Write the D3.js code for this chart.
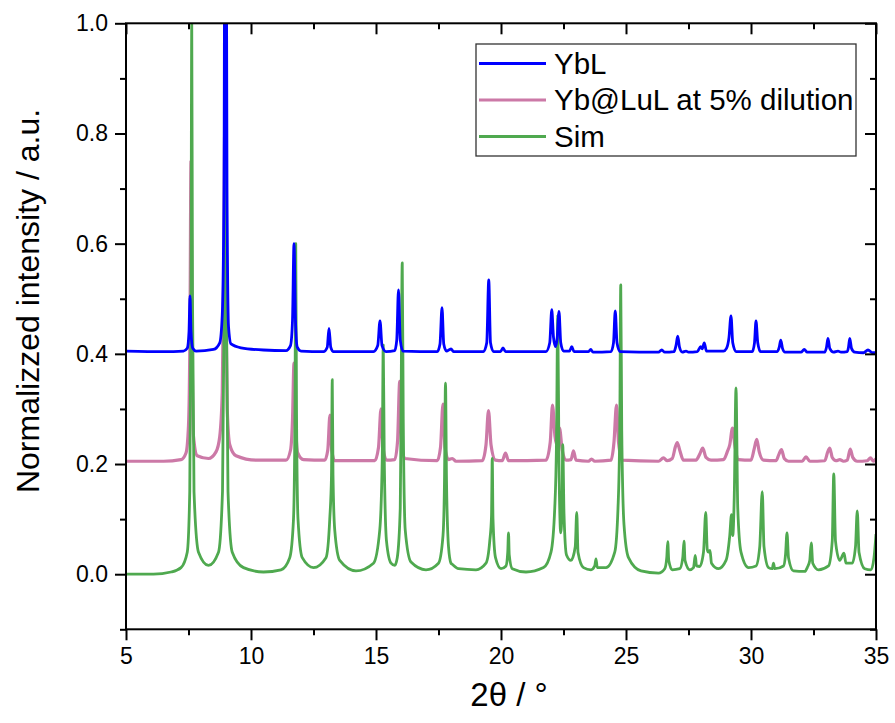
<!DOCTYPE html>
<html>
<head>
<meta charset="utf-8">
<script src="https://cdn.jsdelivr.net/npm/d3@7"></script>
<style>
body { margin:0; background:#fff; }
svg text { font-family:"Liberation Sans", Arial, sans-serif; fill:#000; }
</style>
</head>
<body>
<svg id="chart" width="895" height="723"></svg>
<script>
// series names and colours, legend order
var seriesNames = ["YbL", "Yb@LuL at 5% dilution", "Sim"];
var seriesColors = ["#0000ff", "#cc79a7", "#4fa94f"];

// x ticks and y ticks
var xTicks = [5, 10, 15, 20, 25, 30, 35];
var yTicks = [0.0, 0.2, 0.4, 0.6, 0.8, 1.0];

// YbL, offset +0.4
var ybl = [[5,0.405],[6.5,0.404],[7.3,0.405],[7.45,0.41],[7.52,0.44],[7.56,0.505],[7.6,0.44],[7.67,0.41],[7.8,0.405],[8.5,0.408],[8.75,0.42],[8.85,0.47],[8.92,0.7],[8.96,1.4],[9.0,1.4],[9.04,0.7],[9.1,0.45],[9.2,0.418],[9.6,0.411],[10.5,0.407],[11.4,0.406],[11.58,0.415],[11.66,0.46],[11.72,0.6],[11.78,0.46],[11.85,0.412],[12.0,0.405],[12.9,0.404],[13.05,0.412],[13.12,0.446],[13.19,0.412],[13.3,0.404],[14.9,0.404],[15.07,0.415],[15.16,0.46],[15.24,0.415],[15.4,0.404],[15.75,0.406],[15.83,0.425],[15.9,0.516],[15.97,0.425],[16.08,0.405],[17.45,0.404],[17.56,0.418],[17.64,0.484],[17.71,0.418],[17.82,0.405],[17.95,0.408],[18.0,0.409],[18.1,0.404],[19.3,0.404],[19.43,0.42],[19.51,0.534],[19.58,0.42],[19.7,0.404],[19.98,0.404],[20.08,0.411],[20.18,0.404],[21.8,0.404],[21.95,0.42],[22.03,0.48],[22.1,0.43],[22.18,0.413],[22.25,0.43],[22.32,0.477],[22.39,0.42],[22.5,0.405],[22.74,0.405],[22.83,0.413],[22.92,0.404],[23.5,0.404],[23.59,0.408],[23.68,0.403],[24.4,0.404],[24.5,0.42],[24.57,0.478],[24.64,0.42],[24.76,0.404],[26.3,0.403],[26.43,0.407],[26.55,0.403],[26.92,0.404],[27.0,0.415],[27.07,0.432],[27.14,0.412],[27.25,0.403],[27.4,0.405],[27.5,0.403],[27.85,0.404],[27.99,0.413],[28.05,0.409],[28.13,0.42],[28.22,0.405],[28.9,0.405],[29.02,0.41],[29.12,0.43],[29.2,0.469],[29.27,0.42],[29.4,0.404],[30.05,0.404],[30.14,0.42],[30.2,0.46],[30.27,0.42],[30.38,0.404],[31.05,0.404],[31.13,0.412],[31.19,0.425],[31.26,0.41],[31.36,0.403],[32.0,0.403],[32.13,0.408],[32.25,0.403],[32.95,0.403],[33.02,0.412],[33.08,0.428],[33.15,0.41],[33.3,0.403],[33.48,0.405],[33.6,0.403],[33.85,0.404],[33.9,0.412],[33.95,0.428],[34.02,0.41],[34.15,0.403],[34.5,0.402],[34.68,0.407],[34.85,0.402],[35,0.402]];

// Yb@LuL at 5% dilution, offset +0.2
var ybLuL = [[5,0.205],[6.5,0.205],[7.2,0.208],[7.4,0.22],[7.5,0.27],[7.56,0.45],[7.6,0.75],[7.64,0.45],[7.7,0.25],[7.85,0.215],[8.3,0.21],[8.6,0.222],[8.75,0.25],[8.85,0.33],[8.91,0.55],[8.95,0.81],[8.99,0.55],[9.05,0.3],[9.15,0.235],[9.4,0.215],[10.2,0.207],[11.4,0.207],[11.58,0.225],[11.66,0.28],[11.72,0.383],[11.78,0.28],[11.87,0.22],[12.1,0.208],[12.95,0.207],[13.07,0.225],[13.16,0.289],[13.23,0.225],[13.35,0.206],[14.95,0.206],[15.1,0.23],[15.2,0.3],[15.28,0.23],[15.42,0.207],[15.75,0.208],[15.86,0.24],[15.95,0.35],[16.02,0.24],[16.15,0.21],[17.45,0.206],[17.58,0.23],[17.68,0.309],[17.76,0.23],[17.9,0.208],[18.05,0.21],[18.2,0.205],[19.25,0.206],[19.4,0.235],[19.5,0.297],[19.6,0.235],[19.78,0.207],[20.05,0.206],[20.18,0.22],[20.3,0.206],[21.8,0.207],[21.97,0.24],[22.06,0.307],[22.16,0.25],[22.24,0.235],[22.34,0.265],[22.45,0.225],[22.6,0.207],[22.8,0.208],[22.9,0.224],[23.0,0.207],[23.5,0.205],[23.62,0.209],[23.75,0.205],[24.4,0.207],[24.52,0.24],[24.62,0.307],[24.7,0.24],[24.85,0.207],[26.3,0.205],[26.5,0.211],[26.65,0.206],[26.85,0.21],[26.98,0.232],[27.05,0.239],[27.15,0.225],[27.3,0.207],[27.8,0.207],[27.95,0.218],[28.07,0.229],[28.2,0.212],[28.4,0.207],[28.9,0.208],[29.05,0.222],[29.15,0.235],[29.26,0.265],[29.36,0.232],[29.5,0.208],[30.0,0.207],[30.13,0.228],[30.23,0.245],[30.33,0.222],[30.5,0.207],[31.0,0.206],[31.12,0.218],[31.22,0.226],[31.33,0.21],[31.5,0.205],[32.05,0.205],[32.2,0.213],[32.35,0.205],[32.95,0.206],[33.07,0.222],[33.15,0.229],[33.25,0.212],[33.4,0.206],[33.55,0.208],[33.7,0.205],[33.85,0.207],[33.97,0.227],[34.07,0.212],[34.25,0.205],[34.65,0.206],[34.78,0.211],[34.9,0.205],[35,0.21]];

// simulated pattern, no offset
var sim = [[5,0],[6.1,0.0],[6.8,0.004],[7.2,0.012],[7.45,0.04],[7.55,0.15],[7.6,0.5],[7.63,1.0],[7.66,0.5],[7.72,0.15],[7.9,0.04],[8.3,0.016],[8.7,0.04],[8.86,0.15],[8.93,0.5],[8.97,0.95],[9.01,0.5],[9.08,0.15],[9.25,0.04],[9.7,0.012],[10.5,0.004],[11.2,0.008],[11.55,0.03],[11.7,0.1],[11.76,0.3],[11.79,0.6],[11.82,0.3],[11.88,0.1],[12.05,0.03],[12.5,0.012],[13.0,0.03],[13.15,0.1],[13.22,0.18],[13.25,0.353],[13.28,0.18],[13.35,0.08],[13.55,0.025],[14.2,0.006],[14.9,0.02],[15.15,0.08],[15.25,0.21],[15.29,0.416],[15.33,0.21],[15.42,0.06],[15.6,0.02],[15.75,0.016],[15.85,0.03],[15.97,0.12],[16.0,0.28],[16.05,0.565],[16.09,0.28],[16.17,0.08],[16.4,0.022],[17.0,0.008],[17.5,0.02],[17.68,0.07],[17.74,0.17],[17.78,0.347],[17.82,0.17],[17.9,0.05],[18.0,0.02],[18.05,0.018],[18.3,0.01],[19.0,0.008],[19.4,0.02],[19.55,0.06],[19.62,0.105],[19.65,0.21],[19.68,0.1],[19.78,0.03],[20.0,0.01],[20.2,0.015],[20.27,0.04],[20.3,0.075],[20.33,0.035],[20.45,0.01],[21.0,0.004],[21.7,0.012],[22.0,0.04],[22.15,0.12],[22.22,0.24],[22.27,0.47],[22.32,0.2],[22.39,0.075],[22.44,0.12],[22.47,0.235],[22.52,0.11],[22.62,0.035],[22.8,0.025],[22.97,0.05],[23.03,0.112],[23.08,0.04],[23.3,0.012],[23.6,0.008],[23.75,0.015],[23.8,0.028],[23.85,0.012],[24.2,0.012],[24.55,0.04],[24.68,0.12],[24.75,0.26],[24.79,0.525],[24.83,0.26],[24.92,0.09],[25.1,0.03],[25.6,0.006],[26.3,0.002],[26.55,0.01],[26.63,0.03],[26.67,0.059],[26.71,0.025],[26.85,0.008],[27.15,0.01],[27.27,0.03],[27.32,0.06],[27.36,0.025],[27.55,0.008],[27.7,0.012],[27.77,0.034],[27.82,0.015],[27.95,0.014],[28.1,0.04],[28.19,0.112],[28.25,0.045],[28.3,0.04],[28.36,0.043],[28.42,0.02],[28.7,0.01],[29.0,0.025],[29.15,0.07],[29.22,0.108],[29.27,0.07],[29.33,0.14],[29.4,0.338],[29.47,0.12],[29.6,0.04],[29.9,0.012],[30.2,0.015],[30.35,0.05],[30.45,0.15],[30.52,0.05],[30.7,0.012],[30.85,0.01],[30.9,0.02],[30.95,0.01],[31.3,0.015],[31.38,0.035],[31.44,0.075],[31.5,0.03],[31.7,0.006],[32.15,0.005],[32.25,0.012],[32.35,0.025],[32.41,0.057],[32.47,0.02],[32.7,0.008],[33.1,0.015],[33.25,0.06],[33.31,0.182],[33.38,0.06],[33.55,0.025],[33.72,0.038],[33.8,0.02],[34.05,0.02],[34.18,0.05],[34.25,0.115],[34.32,0.04],[34.55,0.01],[34.8,0.008],[34.92,0.03],[35,0.073]];

var svg = d3.select("#chart");
var margin = {left:126, top:23.3, right:895-876, bottom:723-629.3};
var W = 895-margin.left-margin.right;
var H = 723-margin.top-margin.bottom;

var x = d3.scaleLinear().domain([5,35]).range([0,W]);
var y = d3.scaleLinear().domain([-0.1,1.0]).range([H,0]);

var g = svg.append("g").attr("transform","translate("+margin.left+","+margin.top+")");

g.append("clipPath").attr("id","plotClip")
	.append("rect").attr("x",0).attr("y",0).attr("width",W).attr("height",H);

// data lines: pink, sim, then blue on top
var line = d3.line().curve(d3.curveMonotoneX)
	.x(function(d){return x(d[0]);}).y(function(d){return y(d[1]);});
var plotOrder = [[ybLuL,1,3.2],[sim,2,2.8],[ybl,0,2.8]];
var lines = g.append("g").attr("clip-path","url(#plotClip)");
plotOrder.forEach(function(p)
{
	lines.append("path").datum(p[0])
		.attr("d",line)
		.attr("fill","none")
		.attr("stroke",seriesColors[p[1]])
		.attr("stroke-width",p[2])
		.attr("stroke-linejoin","round");
});

// axes: bottom/left ticks outward, top/right ticks inward
var xMinor = d3.range(7.5,35,5);
var yMinor = [-0.1,0.1,0.3,0.5,0.7,0.9];
function styleAxis(sel)
{
	sel.select(".domain").remove();
	sel.selectAll("line").attr("stroke","#000").attr("stroke-width",2);
	sel.selectAll("text").style("font-family","'Liberation Sans', Arial, sans-serif").style("font-size","23px").attr("fill","#000");
}
var gx = g.append("g").attr("transform","translate(0,"+H+")")
	.call(d3.axisBottom(x).tickValues(xTicks).tickSize(11).tickPadding(7).tickFormat(d3.format("d")));
styleAxis(gx);
g.append("g").attr("transform","translate(0,"+H+")")
	.call(d3.axisBottom(x).tickValues(xMinor).tickSize(6).tickFormat("")).call(styleAxis);

var gy = g.append("g")
	.call(d3.axisLeft(y).tickValues(yTicks).tickSize(11).tickPadding(7).tickFormat(d3.format(".1f")));
styleAxis(gy);
g.append("g").call(d3.axisLeft(y).tickValues(yMinor).tickSize(6).tickFormat("")).call(styleAxis);

g.append("g").call(d3.axisTop(x).tickValues(xTicks).tickSize(-11).tickFormat("")).call(styleAxis);
g.append("g").call(d3.axisTop(x).tickValues(xMinor).tickSize(-6).tickFormat("")).call(styleAxis);
g.append("g").attr("transform","translate("+W+",0)")
	.call(d3.axisRight(y).tickValues(yTicks).tickSize(-11).tickFormat("")).call(styleAxis);
g.append("g").attr("transform","translate("+W+",0)")
	.call(d3.axisRight(y).tickValues(yMinor).tickSize(-6).tickFormat("")).call(styleAxis);

// frame
g.append("rect").attr("x",0).attr("y",0).attr("width",W).attr("height",H)
	.attr("fill","none").attr("stroke","#000").attr("stroke-width",2);

// axis titles
svg.append("text").attr("x",509).attr("y",706).attr("text-anchor","middle")
	.style("font-size","33px").text("2θ / °");
svg.append("text").attr("transform","translate(39,301) rotate(-90)").attr("text-anchor","middle")
	.style("font-size","32px").text("Normalizzed intensity / a.u.");

// legend
var legend = svg.append("g").attr("transform","translate(476,44)");
legend.append("rect").attr("x",0).attr("y",0).attr("width",380).attr("height",112)
	.attr("fill","#fff").attr("stroke","#333").attr("stroke-width",1.3);
seriesNames.forEach(function(name,i)
{
	var ly = 19.5+i*36.5;
	legend.append("line").attr("x1",3).attr("x2",70).attr("y1",ly).attr("y2",ly)
		.attr("stroke",seriesColors[i]).attr("stroke-width",2.8);
	legend.append("text").attr("x",78).attr("y",ly+10).style("font-size","29.5px").text(name);
});
</script>
</body>
</html>
